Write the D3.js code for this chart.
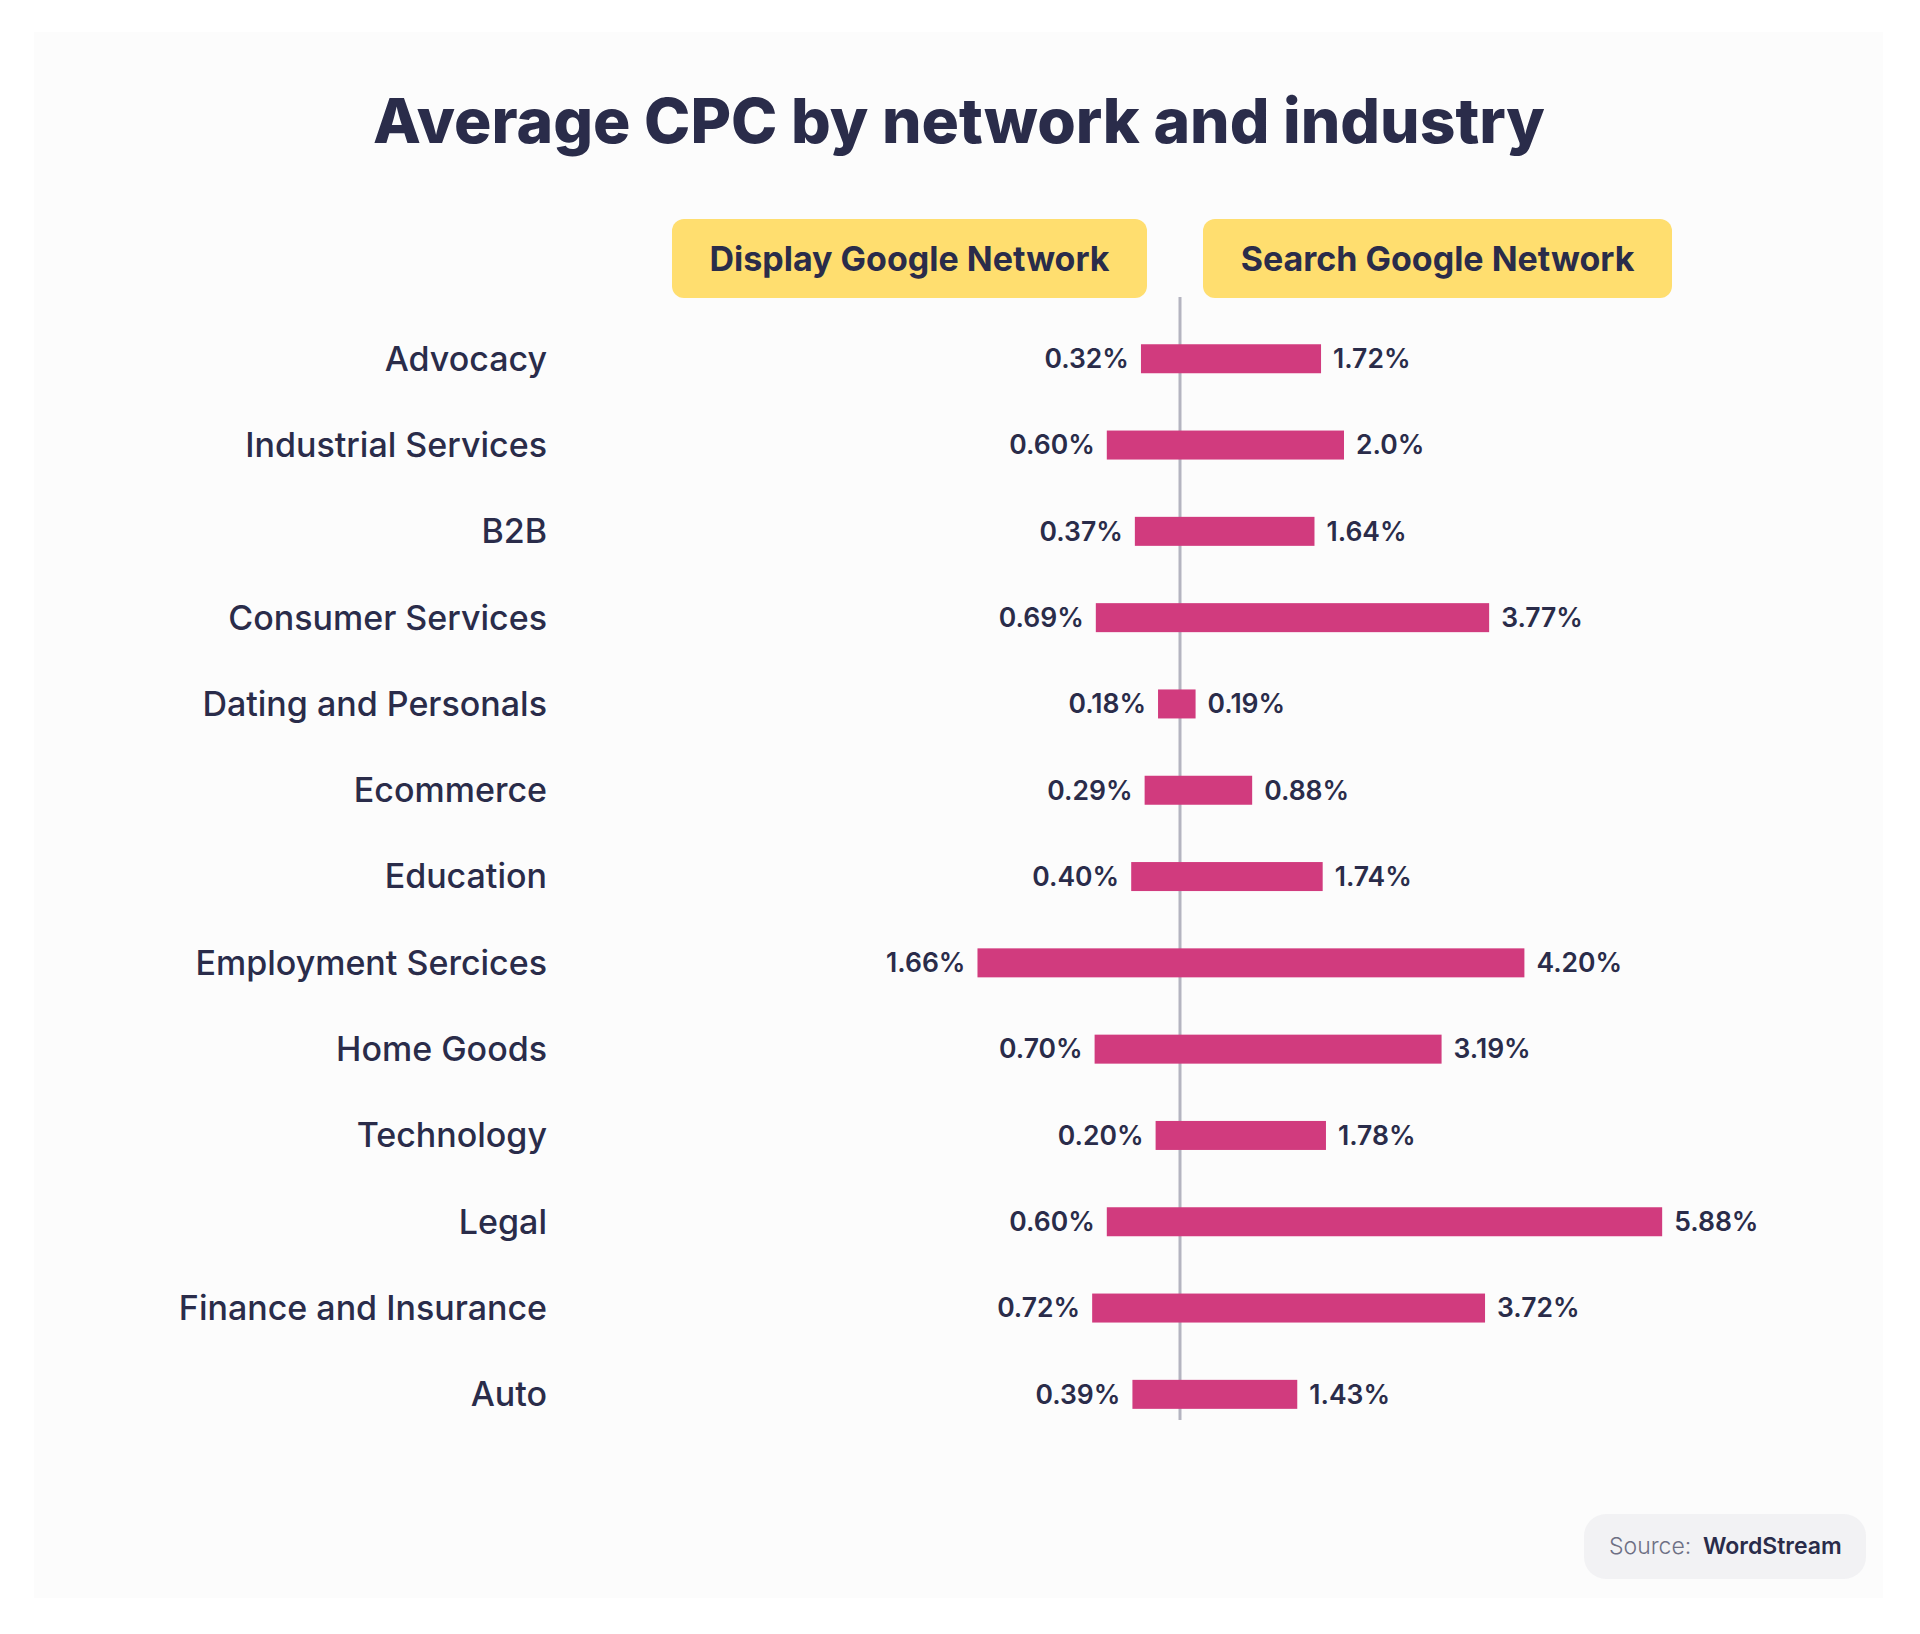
<!DOCTYPE html>
<html>
<head>
<meta charset="utf-8">
<script src="https://cdn.jsdelivr.net/npm/d3@7"></script>
<style>
  body { margin: 0; background: #ffffff; }
  svg { display: block; font-family: Inter, "Noto Sans", sans-serif; }
</style>
</head>
<body>
<div id="chart"></div>
<script>
// Chart data
const categories = ["Advocacy", "Industrial Services", "B2B", "Consumer Services", "Dating and Personals",
  "Ecommerce", "Education", "Employment Sercices", "Home Goods", "Technology", "Legal",
  "Finance and Insurance", "Auto"];
const displayCPC = [0.32, 0.60, 0.37, 0.69, 0.18, 0.29, 0.40, 1.66, 0.70, 0.20, 0.60, 0.72, 0.39];
const searchCPC = [1.72, 2.0, 1.64, 3.77, 0.19, 0.88, 1.74, 4.20, 3.19, 1.78, 5.88, 3.72, 1.43];
const displayLabels = ["0.32%", "0.60%", "0.37%", "0.69%", "0.18%", "0.29%", "0.40%", "1.66%", "0.70%", "0.20%", "0.60%", "0.72%", "0.39%"];
const searchLabels = ["1.72%", "2.0%", "1.64%", "3.77%", "0.19%", "0.88%", "1.74%", "4.20%", "3.19%", "1.78%", "5.88%", "3.72%", "1.43%"];
const seriesNames = ["Display Google Network", "Search Google Network"];

const width = 1920;
const height = 1634;

// Colors
const textColor = "#2a2c4a";
const barColor = "#d13b7e";
const legendColor = "#ffde6f";
const axisColor = "#b4b4c0";

const svg = d3.select("#chart")
  .append("svg")
  .attr("width", width)
  .attr("height", height);

// Card background
svg.append("rect")
  .attr("x", 34).attr("y", 32)
  .attr("width", 1849).attr("height", 1566)
  .attr("fill", "#fcfcfc");

// Title, fitted to the width of the original
const title = svg.append("text")
  .attr("x", 959)
  .attr("y", 143)
  .attr("text-anchor", "middle")
  .attr("fill", textColor)
  .attr("font-size", 64)
  .attr("font-weight", 800)
  .text("Average CPC by network and industry");
const tw = title.node().getComputedTextLength();
title.attr("font-size", 64 * 1172 / tw);

// Scales
const centerX = 1180;
const xLeft = d3.scaleLinear().domain([0, 2]).range([0, 244]);
const xRight = d3.scaleLinear().domain([0, 6]).range([0, 492]);
const y = d3.scaleBand()
  .domain(categories)
  .range([315.6, 315.6 + 13 * 86.3])
  .paddingInner(0.664)
  .paddingOuter(0.332);

// Legend boxes
const legend = [
  {name: seriesNames[0], x: 672, w: 475},
  {name: seriesNames[1], x: 1203, w: 469}
];
const lg = svg.selectAll(".legend")
  .data(legend)
  .enter().append("g")
  .attr("class", "legend");
lg.append("rect")
  .attr("x", d => d.x).attr("y", 219)
  .attr("width", d => d.w).attr("height", 79)
  .attr("rx", 12)
  .attr("fill", legendColor);
lg.append("text")
  .attr("x", d => d.x + d.w / 2)
  .attr("y", 259)
  .attr("dy", "0.35em")
  .attr("text-anchor", "middle")
  .attr("fill", textColor)
  .attr("font-size", 34)
  .attr("font-weight", 700)
  .text(d => d.name);

// Center line
svg.append("line")
  .attr("x1", centerX).attr("x2", centerX)
  .attr("y1", 297).attr("y2", 1420)
  .attr("stroke", axisColor)
  .attr("stroke-width", 3);

const rows = categories.map((c, i) => ({
  cat: c, left: displayCPC[i], right: searchCPC[i],
  leftLabel: displayLabels[i], rightLabel: searchLabels[i]
}));

// Category labels
svg.selectAll(".cat")
  .data(rows)
  .enter().append("text")
  .attr("class", "cat")
  .attr("x", 547)
  .attr("y", d => y(d.cat) + y.bandwidth() / 2)
  .attr("dy", "0.35em")
  .attr("text-anchor", "end")
  .attr("fill", textColor)
  .attr("font-size", 34)
  .attr("font-weight", 500)
  .text(d => d.cat);

// Bars: display (left) and search (right)
svg.selectAll(".bar-left")
  .data(rows)
  .enter().append("rect")
  .attr("class", "bar-left")
  .attr("x", d => centerX - xLeft(d.left))
  .attr("y", d => y(d.cat))
  .attr("width", d => xLeft(d.left))
  .attr("height", y.bandwidth())
  .attr("fill", barColor);

svg.selectAll(".bar-right")
  .data(rows)
  .enter().append("rect")
  .attr("class", "bar-right")
  .attr("x", centerX)
  .attr("y", d => y(d.cat))
  .attr("width", d => xRight(d.right))
  .attr("height", y.bandwidth())
  .attr("fill", barColor);

// Value labels
svg.selectAll(".val-left")
  .data(rows)
  .enter().append("text")
  .attr("class", "val-left")
  .attr("x", d => centerX - xLeft(d.left) - 12)
  .attr("y", d => y(d.cat) + y.bandwidth() / 2)
  .attr("dy", "0.35em")
  .attr("text-anchor", "end")
  .attr("fill", textColor)
  .attr("font-size", 26.5)
  .attr("font-weight", 600)
  .text(d => d.leftLabel);

svg.selectAll(".val-right")
  .data(rows)
  .enter().append("text")
  .attr("class", "val-right")
  .attr("x", d => centerX + xRight(d.right) + 12)
  .attr("y", d => y(d.cat) + y.bandwidth() / 2)
  .attr("dy", "0.35em")
  .attr("fill", textColor)
  .attr("font-size", 26.5)
  .attr("font-weight", 600)
  .text(d => d.rightLabel);

// Source badge
svg.append("rect")
  .attr("x", 1584).attr("y", 1514)
  .attr("width", 282).attr("height", 65)
  .attr("rx", 22)
  .attr("fill", "#f2f2f4");
svg.append("text")
  .attr("x", 1609).attr("y", 1554)
  .attr("fill", "#6e7084")
  .attr("font-size", 23)
  .attr("font-weight", 300)
  .text("Source:");
svg.append("text")
  .attr("x", 1703).attr("y", 1554)
  .attr("fill", textColor)
  .attr("font-size", 23)
  .attr("font-weight", 600)
  .text("WordStream");
</script>
</body>
</html>
